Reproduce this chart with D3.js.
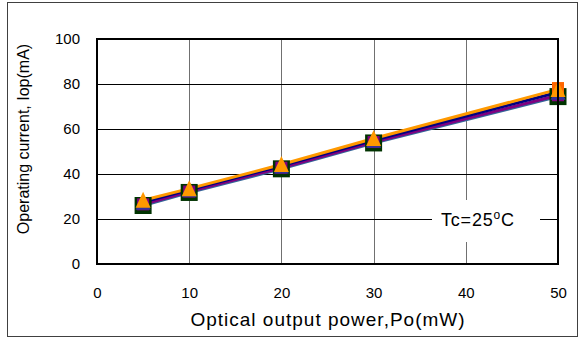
<!DOCTYPE html>
<html><head><meta charset="utf-8">
<script src="https://cdn.jsdelivr.net/npm/d3@7"></script>
<style>body{margin:0;background:#fff;} svg{display:block;}</style>
</head><body>
<script>
const power = [5, 10, 20, 30, 50];
const serGreen  = [26.0, 31.8, 42.3, 53.8, 74.4];
const serPurple = [26.5, 32.2, 42.8, 54.2, 75.0];
const serNavy   = [27.5, 33.0, 43.6, 55.0, 76.3];
const serOrangeSq = [null, null, null, null, 78.2];
const serOrange = [28.3, 33.5, 44.2, 55.8, 77.6];
const xTicks = [0, 10, 20, 30, 40, 50];
const yTicks = [0, 20, 40, 60, 80, 100];
const note = "Tc=25";

const W = 585, H = 339;
const m = {l: 97, r: 558, t: 39, b: 264};
const FONT = "'Liberation Sans', Arial, sans-serif";
const svg = d3.select("body").append("svg").attr("width", W).attr("height", H)
  .style("font-family", FONT);

svg.append("rect").attr("x", 7.5).attr("y", 2.5).attr("width", 570).attr("height", 334)
  .attr("fill", "#fff").attr("stroke", "#404040").attr("stroke-width", 1);

const x = d3.scaleLinear().domain([0, 50]).range([m.l, m.r]);
const y = d3.scaleLinear().domain([0, 100]).range([m.b, m.t]);

// gridlines
svg.append("g").selectAll("line").data(xTicks.slice(1, -1)).join("line")
  .attr("x1", d => Math.round(x(d)) + 0.5).attr("x2", d => Math.round(x(d)) + 0.5)
  .attr("y1", m.t).attr("y2", m.b).attr("stroke", "#707070").attr("stroke-width", 1);
svg.append("g").selectAll("line").data(yTicks.slice(1, -1)).join("line")
  .attr("y1", d => Math.round(y(d)) + 0.5).attr("y2", d => Math.round(y(d)) + 0.5)
  .attr("x1", m.l).attr("x2", m.r).attr("stroke", "#000").attr("stroke-width", 1);

// note box
const nb = svg.append("g");
nb.append("rect").attr("x", 432).attr("y", 200).attr("width", 108).attr("height", 42).attr("fill", "#fff");
const nt = nb.append("text").attr("x", 441).attr("y", 226).attr("font-size", 18)
  .attr("letter-spacing", 0.8).attr("fill", "#000");
nt.append("tspan").text(note);
nt.append("tspan").text("o").attr("font-size", 12).attr("dy", -7);
nt.append("tspan").text("C").attr("dy", 7);

// axes labels
const xAxis = d3.axisBottom(x).tickValues(xTicks).tickSize(0).tickPadding(23);
svg.append("g").attr("transform", `translate(0,${m.b})`).call(xAxis)
  .call(g => g.select(".domain").remove())
  .selectAll("text").attr("font-size", 15).attr("font-family", FONT).attr("fill", "#000");
const yAxis = d3.axisLeft(y).tickValues(yTicks).tickSize(0).tickPadding(17);
svg.append("g").attr("transform", `translate(${m.l},0)`).call(yAxis)
  .call(g => g.select(".domain").remove())
  .selectAll("text").attr("font-size", 15).attr("font-family", FONT).attr("fill", "#000");

svg.append("text").attr("x", 328).attr("y", 326).attr("text-anchor", "middle")
  .attr("font-size", 19).attr("letter-spacing", 1).text("Optical output power,Po(mW)");
svg.append("text").attr("transform", "translate(29,139) rotate(-90)").attr("text-anchor", "middle")
  .attr("font-size", 16).text("Operating current, Iop(mA)");

// lines
const series = [
  {v: serGreen, line: "#336699", marker: "sq", fill: "#003300", size: 17},
  {v: serPurple, line: "#800080", marker: "sq", fill: "#800080", size: 12},
  {v: serNavy, line: "#000080", marker: "tri", fill: "#333399", size: 15},
  {v: serOrangeSq, line: "#FF6600", marker: "sq", fill: "#FF6600", size: 12},
  {v: serOrange, line: "#FF9900", marker: "tri", fill: "#FF9900", size: 15}
];
const lineGen = d3.line().defined(d => d[1] != null).x(d => x(d[0])).y(d => y(d[1]));
series.forEach(s => {
  const pts = power.map((p, i) => [p, s.v[i]]);
  if (pts.filter(d => d[1] != null).length > 1)
    svg.append("path").datum(pts).attr("d", lineGen).attr("fill", "none")
      .attr("stroke", s.line).attr("stroke-width", 3);
});
series.forEach(s => {
  const pts = power.map((p, i) => [p, s.v[i]]).filter(d => d[1] != null);
  const g = svg.append("g");
  if (s.marker === "sq") {
    g.selectAll("rect").data(pts).join("rect")
      .attr("x", d => x(d[0]) - s.size / 2).attr("y", d => y(d[1]) - s.size / 2)
      .attr("width", s.size).attr("height", s.size).attr("fill", s.fill);
  } else {
    const h = s.size, w = s.size;
    g.selectAll("path").data(pts).join("path")
      .attr("d", d => { const cx = x(d[0]), cy = y(d[1]);
        return `M${cx},${cy - h / 2 - 1}L${cx + w / 2},${cy + h / 2}L${cx - w / 2},${cy + h / 2}Z`; })
      .attr("fill", s.fill);
  }
});

// plot frame
svg.append("rect").attr("x", m.l).attr("y", m.t).attr("width", m.r - m.l).attr("height", m.b - m.t)
  .attr("fill", "none").attr("stroke", "#000").attr("stroke-width", 2);
</script>
</body></html>
